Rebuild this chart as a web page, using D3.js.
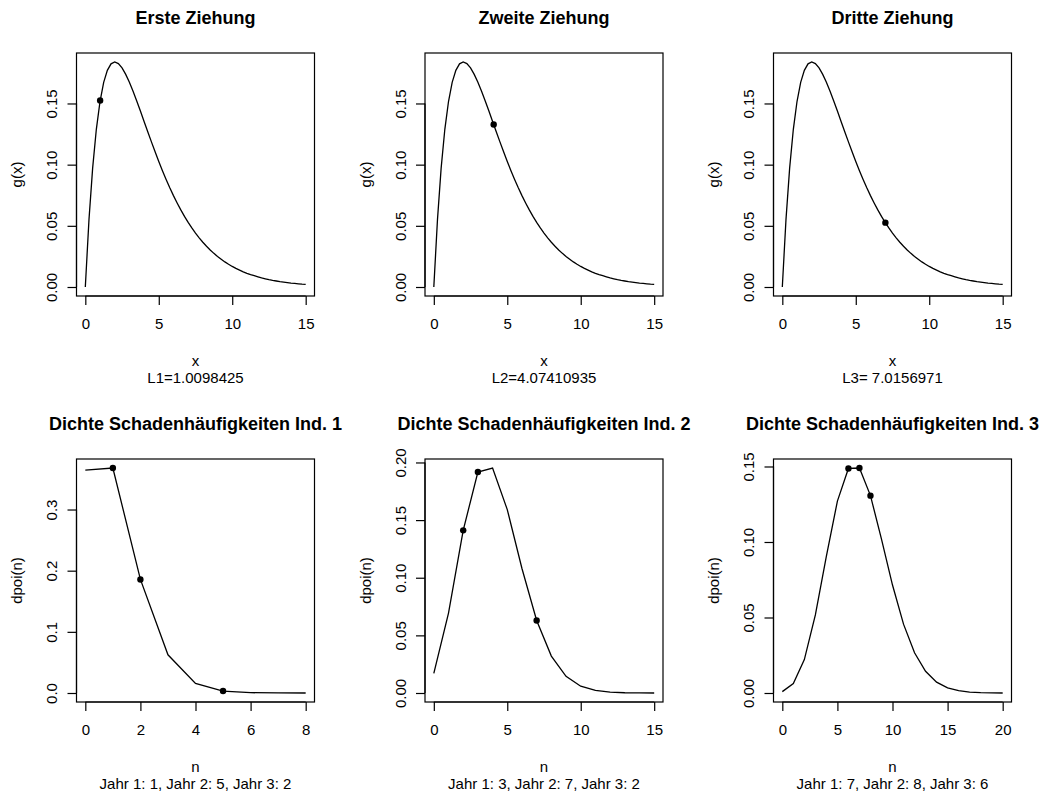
<!DOCTYPE html>
<html>
<head>
<meta charset="utf-8">
<script src="https://cdn.jsdelivr.net/npm/d3@7"></script>
<style>
  body { margin: 0; background: #fff; }
  text { font-family: "Liberation Sans", Arial, Helvetica, sans-serif; fill: #000; }
</style>
</head>
<body>
<script>
// density g(x) (x step 0.25)
var gxX = d3.range(0, 15.001, 0.25);
var gxY = [0, 0.0552, 0.0974, 0.1289, 0.1516, 0.1673, 0.1771, 0.1824, 0.1839, 0.1826,
  0.1791, 0.1738, 0.1673, 0.1600, 0.1521, 0.1438, 0.1353, 0.1269, 0.1186, 0.1105,
  0.1026, 0.0951, 0.0879, 0.0811, 0.0747, 0.0687, 0.0630, 0.0577, 0.0528, 0.0483,
  0.0441, 0.0402, 0.0366, 0.0333, 0.0303, 0.0275, 0.0250, 0.0227, 0.0205, 0.0186,
  0.0168, 0.0152, 0.0138, 0.0124, 0.0112, 0.0101, 0.0092, 0.0083, 0.0074, 0.0067,
  0.0060, 0.0054, 0.0049, 0.0044, 0.0040, 0.0036, 0.0032, 0.0029, 0.0026, 0.0023, 0.0021];

// the three draws
var drawTitles = ["Erste Ziehung", "Zweite Ziehung", "Dritte Ziehung"];
var drawX = [1.0098425, 4.07410935, 7.0156971];
var drawY = [0.1524, 0.1328, 0.0526];
var drawSubs = ["L1=1.0098425", "L2=4.07410935", "L3= 7.0156971"];
var gxYTicks = [0, 0.05, 0.10, 0.15];
var gxYLabels = ["0.00", "0.05", "0.10", "0.15"];
var gxXTicks = [0, 5, 10, 15];

// claim count densities
var poisTitles = ["Dichte Schadenhäufigkeiten Ind. 1", "Dichte Schadenhäufigkeiten Ind. 2", "Dichte Schadenhäufigkeiten Ind. 3"];
var pois1 = [0.3643, 0.3679, 0.1857, 0.0625, 0.0158, 0.0032, 0.0005, 0.0001, 0.0000];
var pois2 = [0.0170, 0.0693, 0.1411, 0.1917, 0.1952, 0.1591, 0.1080, 0.0629, 0.0320, 0.0145,
  0.0059, 0.0022, 0.0007, 0.0002, 0.0001, 0.0000];
var pois3 = [0.0009, 0.0063, 0.0221, 0.0517, 0.0906, 0.1271, 0.1487, 0.1490, 0.1307, 0.1019,
  0.0715, 0.0456, 0.0266, 0.0144, 0.0072, 0.0034, 0.0015, 0.0006, 0.0002, 0.0001, 0.0000];
var claims = [[1, 5, 2], [3, 7, 2], [7, 8, 6]];
var poisSubs = ["Jahr 1: 1, Jahr 2: 5, Jahr 3: 2", "Jahr 1: 3, Jahr 2: 7, Jahr 3: 2", "Jahr 1: 7, Jahr 2: 8, Jahr 3: 6"];
var poisXTicks = [[0, 2, 4, 6, 8], [0, 5, 10, 15], [0, 5, 10, 15, 20]];
var poisYTicks = [[0, 0.1, 0.2, 0.3], [0, 0.05, 0.10, 0.15, 0.20], [0, 0.05, 0.10, 0.15]];
var poisYLabels = [["0.0", "0.1", "0.2", "0.3"], ["0.00", "0.05", "0.10", "0.15", "0.20"], ["0.00", "0.05", "0.10", "0.15"]];

var W = 1047, H = 793;
var boxW = 238, boxH = 243;
var rowTop = [53, 459];

var svg = d3.select("body").append("svg")
    .attr("width", W)
    .attr("height", H);

// R style axis range: data range widened by 4 %
function rRange(lo, hi) {
  var d = (hi - lo) * 0.04;
  return [lo - d, hi + d];
}

function panel(col, row, o) {
  var left = 76.5 + col * 348.5,
      top = rowTop[row];
  var g = svg.append("g").attr("transform", "translate(" + left + "," + top + ")");

  var x = d3.scaleLinear().domain(rRange(d3.min(o.xs), d3.max(o.xs))).range([0, boxW]);
  var y = d3.scaleLinear().domain(rRange(0, d3.max(o.ys))).range([boxH, 0]);

  var line = d3.line()
    .x(function(d, i) { return x(o.xs[i]); })
    .y(function(d) { return y(d); });

  g.append("path")
    .datum(o.ys)
    .attr("d", line)
    .attr("fill", "none")
    .attr("stroke", "#000")
    .attr("stroke-width", 1.3);

  g.selectAll("circle")
    .data(o.px)
    .enter()
    .append("circle")
    .attr("cx", function(d) { return x(d); })
    .attr("cy", function(d, i) { return y(o.py[i]); })
    .attr("r", 3.2)
    .attr("fill", "#000");

  // box
  g.append("rect")
    .attr("width", boxW).attr("height", boxH)
    .attr("fill", "none").attr("stroke", "#000").attr("stroke-width", 1.2);

  // x axis
  var xAxis = d3.axisBottom(x).tickValues(o.xTicks).tickSize(9).tickPadding(13).tickFormat(d3.format("d"));
  var xa = g.append("g").attr("transform", "translate(0," + boxH + ")").call(xAxis);
  xa.select(".domain").attr("d", "M" + x(o.xTicks[0]) + ",0H" + x(o.xTicks[o.xTicks.length - 1]));

  // y axis
  var yAxis = d3.axisLeft(y).tickValues(o.yTicks).tickSize(9)
    .tickFormat(function(d, i) { return o.yLabels[i]; });
  var ya = g.append("g").call(yAxis);
  ya.select(".domain").attr("d", "M0," + y(o.yTicks[0]) + "V" + y(o.yTicks[o.yTicks.length - 1]));
  ya.selectAll(".tick text")
    .attr("x", 0).attr("dy", null)
    .attr("text-anchor", "middle")
    .attr("dominant-baseline", "central")
    .attr("transform", "translate(-25,0) rotate(-90)");

  [xa, ya].forEach(function(a) {
    a.selectAll(".domain, .tick line").attr("stroke", "#000").attr("stroke-width", 1.2);
    a.selectAll(".tick text").attr("font-size", "15px").attr("font-family", null).attr("fill", "#000");
  });

  // titles and labels
  g.append("text")
    .attr("x", boxW / 2).attr("y", -35)
    .attr("text-anchor", "middle").attr("dominant-baseline", "central")
    .style("font-size", "18px").style("font-weight", "bold")
    .text(o.title);

  g.append("text")
    .attr("x", boxW / 2).attr("y", boxH + 64)
    .attr("text-anchor", "middle").attr("dominant-baseline", "central")
    .style("font-size", "15px")
    .text(o.xLab);

  g.append("text")
    .attr("x", boxW / 2).attr("y", boxH + 81)
    .attr("text-anchor", "middle").attr("dominant-baseline", "central")
    .style("font-size", "15px")
    .text(o.sub);

  g.append("text")
    .attr("transform", "translate(-60," + boxH / 2 + ") rotate(-90)")
    .attr("text-anchor", "middle").attr("dominant-baseline", "central")
    .style("font-size", "15px")
    .text(o.yLab);
}

// top row: draws from g(x)
drawTitles.forEach(function(t, i) {
  panel(i, 0, {
    xs: gxX, ys: gxY,
    px: [drawX[i]], py: [drawY[i]],
    xTicks: gxXTicks, yTicks: gxYTicks, yLabels: gxYLabels,
    title: t, xLab: "x", yLab: "g(x)", sub: drawSubs[i]
  });
});

// bottom row: poisson densities
[pois1, pois2, pois3].forEach(function(p, i) {
  var ns = d3.range(p.length);
  panel(i, 1, {
    xs: ns, ys: p,
    px: claims[i], py: claims[i].map(function(n) { return p[n]; }),
    xTicks: poisXTicks[i], yTicks: poisYTicks[i], yLabels: poisYLabels[i],
    title: poisTitles[i], xLab: "n", yLab: "dpoi(n)", sub: poisSubs[i]
  });
});
</script>
</body>
</html>
